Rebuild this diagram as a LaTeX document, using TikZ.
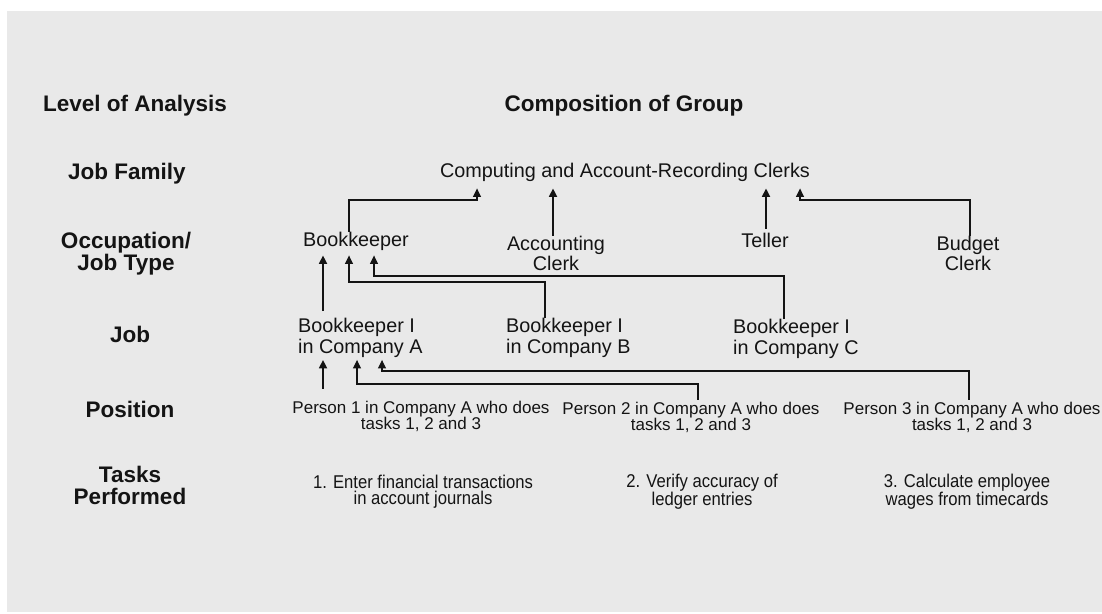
\documentclass[tikz,border=0pt]{standalone}
\usepackage{fontspec}
\setmainfont{Liberation Sans}
\newfontfamily\narrowfont[FakeStretch=0.9]{Liberation Sans}
\usetikzlibrary{arrows.meta}
\definecolor{bggray}{HTML}{E9E9E9}
\definecolor{ink}{HTML}{141414}
\begin{document}
\begin{tikzpicture}[x=1pt,y=-1pt,
  every node/.style={text=ink, inner sep=0pt},
  lvl/.style={font=\fontsize{22.5}{22}\selectfont\bfseries, align=center},
  item/.style={font=\fontsize{19.8}{20}\selectfont, align=center},
  jobn/.style={font=\fontsize{19.8}{21}\selectfont, align=left, anchor=west},
  persontext/.style={font=\fontsize{17}{16}\selectfont, align=center},
  tasktext/.style={font=\narrowfont\fontsize{18.5}{16.5}\selectfont, align=center},
  straightarrow/.style={draw=ink, line width=1.7pt, -{Triangle[width=8pt,length=8.5pt]}},
  elbowarrow/.style={draw=ink, line width=1.2pt, -{Triangle[width=8pt,length=8.5pt]}}
]
\useasboundingbox (0,0) rectangle (1102,613);
\fill[white] (0,0) rectangle (1102,613);
\fill[bggray] (7,11) rectangle (1102,612);

% level labels
\node[lvl] (hLevel) at (135,106) {Level of Analysis};
\node[lvl] (hComp) at (624,106) {Composition of Group};
\node[lvl] (lFam) at (127,174) {Job Family};
\node[lvl] (lOcc) at (126,254) {Occupation/\\Job Type};
\node[lvl] (lJob) at (130,334.5) {Job};
\node[lvl] (lPos) at (130,409) {Position};
\node[lvl] (lTask) at (130,485) {Tasks\\Performed};

% composition
\node[item] (fam) at (625,172) {Computing and Account-Recording Clerks};
\node[item] (bk) at (356,241) {Bookkeeper};
\node[item] (acc) at (556,253) {Accounting\\Clerk};
\node[item] (tel) at (765,240) {Teller};
\node[item] (bud) at (968,253) {Budget\\Clerk};

\node[jobn] (jA) at (298,338) {Bookkeeper I\\in Company A};
\node[jobn] (jB) at (506,338) {Bookkeeper I\\in Company B};
\node[jobn] (jC) at (733,339) {Bookkeeper I\\in Company C};

\node[persontext] (p1) at (421,416) {Person 1 in Company A who does\\tasks 1, 2 and 3};
\node[persontext] (p2) at (691,417) {Person 2 in Company A who does\\tasks 1, 2 and 3};
\node[persontext] (p3) at (972,417) {Person 3 in Company A who does\\tasks 1, 2 and 3};

\node[tasktext] (t1) at (423,491.5) {1. Enter financial transactions\\in account journals};
\node[tasktext] (t2) at (702,491.5) {2. Verify accuracy of\\ledger entries};
\node[tasktext] (t3) at (967,491.5) {3. Calculate employee\\wages from timecards};

% occupation -> job family
\draw[elbowarrow, shorten >=7pt] (349,0 |- bk.north) -- (349,200) -| (477,0 |- fam.south);
\draw[straightarrow, shorten >=7pt] (553,0 |- acc.north) -- (553,0 |- fam.south);
\draw[straightarrow, shorten >=7pt, shorten <=4pt] (766,0 |- tel.north) -- (766,0 |- fam.south);
\draw[elbowarrow, shorten >=7pt] (970,0 |- bud.north) -- (970,200) -| (800,0 |- fam.south);

% job -> occupation
\draw[straightarrow, shorten >=5pt, shorten <=7pt] (323,0 |- jA.north) -- (323,0 |- bk.south);
\draw[elbowarrow, shorten >=5pt] (545,0 |- jB.north) -- (545,282) -| (349,0 |- bk.south);
\draw[elbowarrow, shorten >=5pt] (784,0 |- jC.north) -- (784,276) -| (374,0 |- bk.south);

% position -> job
\draw[straightarrow, shorten >=2pt, shorten <=12pt] (323,0 |- p1.north) -- (323,0 |- jA.south);
\draw[elbowarrow, shorten >=2pt, shorten <=2pt] (698,0 |- p2.north) -- (698,384) -| (357,0 |- jA.south);
\draw[elbowarrow, shorten >=2pt, shorten <=2pt] (969,0 |- p3.north) -- (969,371) -| (382,0 |- jA.south);
\end{tikzpicture}
\end{document}
